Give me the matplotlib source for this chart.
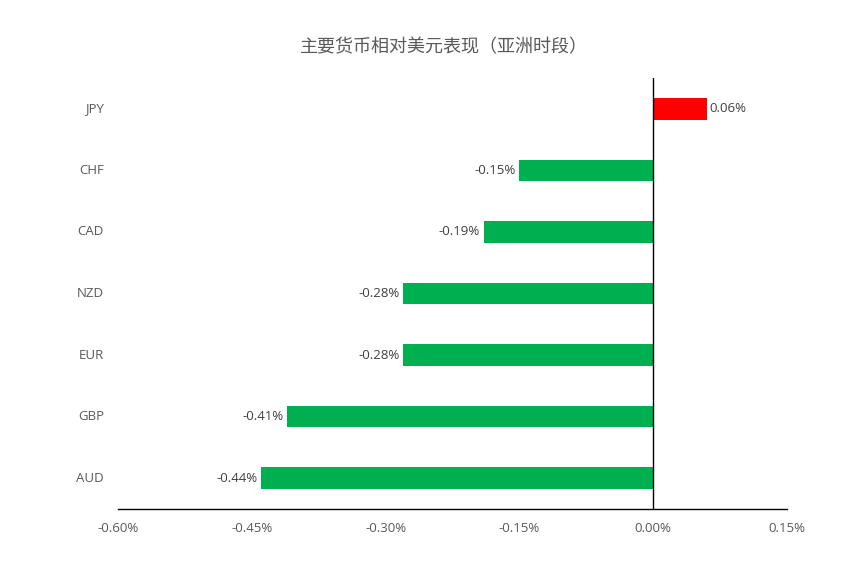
import matplotlib.pyplot as plt
from matplotlib.ticker import FuncFormatter

plt.rcParams['font.family'] = ['Open Sans', 'Noto Sans CJK SC', 'DejaVu Sans']

currencies = ["JPY", "CHF", "CAD", "NZD", "EUR", "GBP", "AUD"]
changes = [0.06, -0.15, -0.19, -0.28, -0.28, -0.41, -0.44]
title = "主要货币相对美元表现（亚洲时段）"

text_color = "#595959"
colors = ["#FF0000" if v > 0 else "#00B050" for v in changes]

fig = plt.figure(figsize=(8.63, 5.71), dpi=100)
ax = fig.add_axes([118 / 863, 1 - 509 / 571, (787 - 118) / 863, (509 - 78) / 571])

ypos = list(range(len(currencies)))[::-1]
ax.barh(ypos, changes, height=0.35, color=colors, zorder=2)

for y, v in zip(ypos, changes):
    label = f"{v:.2f}%"
    if v >= 0:
        ax.text(v + 0.003, y, label, va="center", ha="left", fontsize=9.5, color="#404040")
    else:
        ax.text(v - 0.004, y, label, va="center", ha="right", fontsize=9.5, color="#404040")

ax.set_xlim(-0.6, 0.15)
ax.set_ylim(-0.5, len(currencies) - 0.5)
ax.set_xticks([-0.6, -0.45, -0.3, -0.15, 0.0, 0.15])
ax.xaxis.set_major_formatter(FuncFormatter(lambda x, p: f"{x:.2f}%"))
ax.tick_params(axis="x", length=0, labelsize=9.5, labelcolor=text_color, pad=9)

ax.set_yticks([])
for y, c in zip(ypos, currencies):
    ax.text(-0.6157, y, c, va="center", ha="right", fontsize=9.5, color=text_color)

for s in ["top", "right", "left"]:
    ax.spines[s].set_visible(False)
ax.spines["bottom"].set_color("black")
ax.spines["bottom"].set_linewidth(1)
ax.axvline(0, color="black", linewidth=1, zorder=3)

fig.text(444 / 863, 1 - 47 / 571, title, ha="center", va="center",
         fontsize=13, color=text_color, family=["Noto Sans CJK SC", "DejaVu Sans"])

fig.savefig("out.png", dpi=100)
